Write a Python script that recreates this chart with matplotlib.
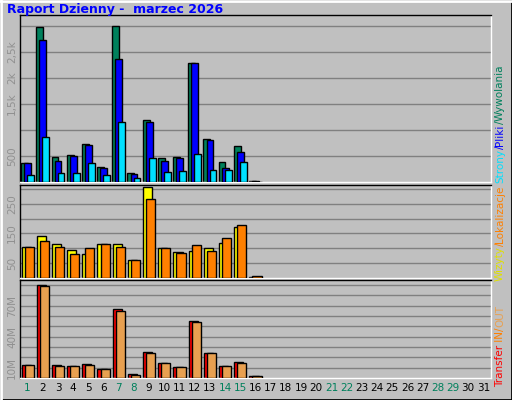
import matplotlib
matplotlib.use("Agg")
import matplotlib.pyplot as plt
import numpy as np

days = list(range(1, 32))
hits  = [374,2972,472,512,728,295,2991,177,1200,453,472,2283,827,394,689,15]
files = [374,2736,413,499,708,276,2362,157,1161,413,453,2283,807,276,571,10]
pages = [138,866,177,177,374,138,1161,79,453,197,216,531,236,236,394,8]
visits = [104,142,114,94,80,114,114,59,305,101,87,90,101,118,173,3]
sites  = [104,125,104,80,101,114,104,59,267,101,83,111,90,135,180,7]
kin  = [12.3,90.3,12.3,11.3,13.3,8.3,66.3,4.3,25.3,14.3,10.3,55.3,24.3,11.3,15.3,2.3]
kout = [12.3,89.3,11.3,11.3,12.3,8.3,64.3,3.3,24.3,14.3,10.3,54.3,24.3,11.3,14.3,2.3]
weekend = [1,7,8,14,15,21,22,28,29]

W, H = 512, 400
fig = plt.figure(figsize=(W/100, H/100), dpi=100)
fig.patch.set_facecolor('#c0c0c0')
fig.add_artist(plt.Rectangle((0,0),1,1,transform=fig.transFigure,fill=False,ec='black',lw=2))
fig.add_artist(plt.Line2D([1/W,1/W],[0,1],transform=fig.transFigure,color='white',lw=2))
fig.add_artist(plt.Line2D([0,1],[1-1/H,1-1/H],transform=fig.transFigure,color='white',lw=2))

def ax_at(x0,y0,x1,y1):
    return fig.add_axes([x0/W, 1-y1/H, (x1-x0)/W, (y1-y0)/H])

x0, x1 = 20, 491
axs = [ax_at(x0,15,x1,182), ax_at(x0,185,x1,278), ax_at(x0,280,x1,378)]
ylims = [3210, 313, 94.7]
grids = [np.arange(500,3210,500), np.arange(50,313,50), np.arange(10,94.7,10)]
ticks = [([500,1500,2000,2500],['500','1,5k','2k','2,5k']),
         ([50,150,250],['50','150','250']),
         ([10,40,70],['10M','40M','70M'])]
for ax, yl, g, (tv, tl) in zip(axs, ylims, grids, ticks):
    ax.set_facecolor('#c0c0c0')
    ax.set_xlim(0.5, 31.5)
    ax.set_ylim(0, yl)
    for v in g:
        ax.axhline(v, color='#808080', lw=1, zorder=0)
    ax.set_xticks([])
    ax.set_yticks(tv)
    ax.set_yticklabels(tl, rotation=90, va='center', color='#909090', fontsize=7.5)
    ax.tick_params(axis='y', length=0, pad=2)
    for s in ax.spines.values():
        s.set_color('black'); s.set_linewidth(1)
    ax.spines['bottom'].set_color('white'); ax.spines['right'].set_color('white')

d = np.arange(1, len(hits)+1)
axs[0].bar(d-0.2, hits, 0.45, color='#00805c', ec='black', lw=1, zorder=2)
axs[0].bar(d, files, 0.45, color='#0000ff', ec='black', lw=1, zorder=3)
axs[0].bar(d+0.2, pages, 0.45, color='#00e0ff', ec='black', lw=1, zorder=4)
axs[1].bar(d-0.1, visits, 0.6, color='#ffff00', ec='black', lw=1, zorder=2)
axs[1].bar(d+0.1, sites, 0.6, color='#ff8000', ec='black', lw=1, zorder=3)
axs[2].bar(d-0.1, kin, 0.6, color='#ff0000', ec='black', lw=1, zorder=2)
axs[2].bar(d+0.1, kout, 0.6, color='#e8a050', ec='black', lw=1, zorder=3)

for i in days:
    xf = (x0 + (i-0.5)/31*(x1-x0))/W
    fig.text(xf, 1-388/H, str(i), ha='center', va='center', fontsize=7.5,
             color='#00805c' if i in weekend else 'black')

fig.text(7/W, 1-9/H, 'Raport Dzienny -  marzec 2026', color='#0000ff', fontsize=9,
         fontweight='bold', va='center', ha='left')

fig.canvas.draw()
r = fig.canvas.get_renderer()
def vtext(parts, ybot):
    y = ybot
    for s, c in parts:
        t = fig.text(500/W, y/H, s, rotation=90, color=c, fontsize=7.5, ha='center', va='bottom')
        bb = t.get_window_extent(r)
        y += bb.height
vtext([('Transfer',"#ff0000"),(' IN',"#ff8000"),('/',"#ff8000"),('OUT',"#e8a050")], 400-387)
vtext([('Wizyty',"#e0e000"),('/',"#ff8000"),('Lokalizacje',"#ff8000")], 400-281)
vtext([('Strony',"#00e0ff"),('/',"#0000ff"),('Pliki',"#0000ff"),('/',"#00805c"),('Wywolania',"#00805c")], 400-183)

fig.savefig('out.png', dpi=100, facecolor=fig.get_facecolor())
